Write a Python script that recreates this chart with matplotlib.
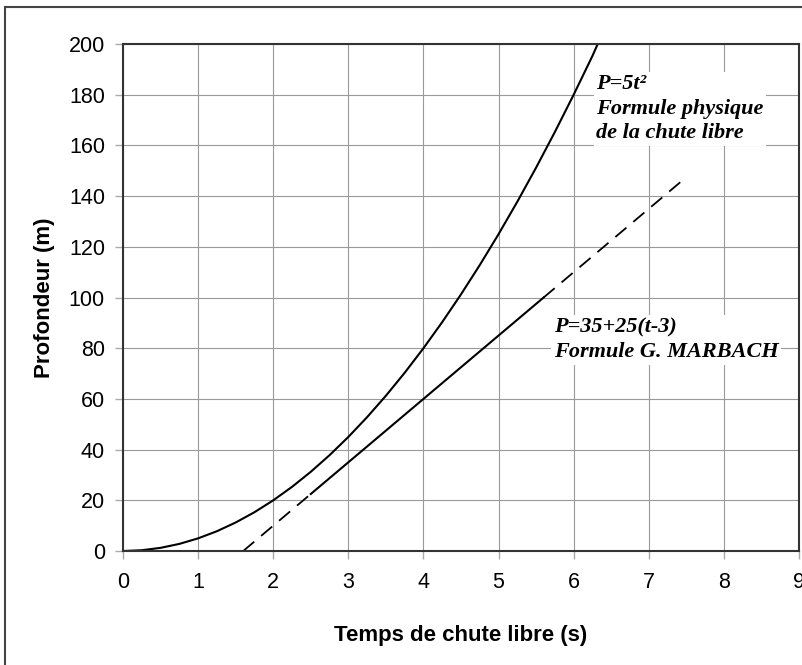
import matplotlib
matplotlib.use('Agg')
import matplotlib.pyplot as plt
from matplotlib.patches import Rectangle

# Données
# P = 5t^2, chute libre
t_chute = [0, 0.25, 0.5, 0.75, 1, 1.25, 1.5, 1.75, 2, 2.25, 2.5, 2.75, 3, 3.25,
           3.5, 3.75, 4, 4.25, 4.5, 4.75, 5, 5.25, 5.5, 5.75, 6, 6.25, 6.32]
p_chute = [0, 0.31, 1.25, 2.81, 5, 7.81, 11.25, 15.31, 20, 25.31, 31.25, 37.81,
           45, 52.81, 61.25, 70.31, 80, 90.31, 101.25, 112.81, 125, 137.81,
           151.25, 165.31, 180, 195.31, 200]

# P = 35+25(t-3), formule G. Marbach
t_marbach_avant = [1.6, 2.5]
p_marbach_avant = [0, 22.5]
t_marbach = [2.5, 5.6]
p_marbach = [22.5, 100]
t_marbach_apres = [5.6, 7.5]
p_marbach_apres = [100, 147.5]

x_ticks = [0, 1, 2, 3, 4, 5, 6, 7, 8, 9]
y_ticks = [0, 20, 40, 60, 80, 100, 120, 140, 160, 180, 200]

label_chute = 'P=5t²\nFormule physique\nde la chute libre'
label_marbach = 'P=35+25(t-3)\nFormule G. MARBACH'

plt.rcParams['font.family'] = ['Liberation Sans', 'DejaVu Sans']

fig = plt.figure(figsize=(8.03, 6.65), dpi=100)
ax = fig.add_axes([0.1532, 0.1714, 0.995 - 0.1532, 0.9338 - 0.1714])

# cadre extérieur de la figure
fig.patches.append(Rectangle((5 / 803, -0.05), 1.2, 1.05 - 7 / 665,
                             transform=fig.transFigure, fill=False,
                             edgecolor='#444444', linewidth=1.5))

ax.plot(t_chute, p_chute, color='black', linewidth=1.5)
ax.plot(t_marbach_avant, p_marbach_avant, color='black', linewidth=1.3,
        linestyle=(0, (8, 5)))
ax.plot(t_marbach, p_marbach, color='black', linewidth=1.5)
ax.plot(t_marbach_apres, p_marbach_apres, color='black', linewidth=1.3,
        linestyle=(0, (8, 5)))

ax.set_xlim(0, 9)
ax.set_ylim(0, 200)
ax.set_xticks(x_ticks)
ax.set_yticks(y_ticks)
ax.tick_params(axis='both', labelsize=15.5, color='#aaaaaa', length=6,
               width=1)
ax.tick_params(axis='y', pad=7)
ax.tick_params(axis='x', pad=9)
ax.grid(True, color='#999999', linewidth=0.8)
ax.set_axisbelow(True)
for s in ax.spines.values():
    s.set_color('#333333')
    s.set_linewidth(1.5)

ax.set_xlabel('Temps de chute libre (s)', fontsize=16, fontweight='bold',
              labelpad=23)
ax.set_ylabel('Profondeur (m)', fontsize=16, fontweight='bold', labelpad=10)

serif = ['Liberation Serif', 'DejaVu Serif']
ax.text(6.30, 188, label_chute, family=serif, fontsize=16,
        fontweight='bold', fontstyle='italic', va='top', ha='left',
        linespacing=1.3,
        bbox=dict(facecolor='white', edgecolor='none', pad=2))
ax.text(5.74, 92, label_marbach, family=serif, fontsize=16,
        fontweight='bold', fontstyle='italic', va='top', ha='left',
        linespacing=1.3,
        bbox=dict(facecolor='white', edgecolor='none', pad=2))

fig.savefig('out.png', dpi=100)
